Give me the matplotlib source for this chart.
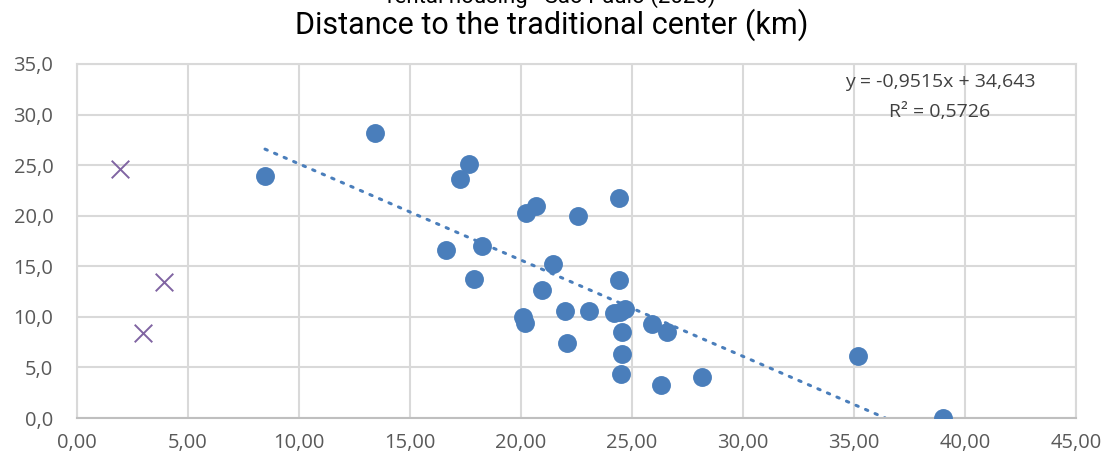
import numpy as np
import matplotlib.pyplot as plt
from matplotlib.ticker import FuncFormatter, MultipleLocator

# ==============================================================
#  Data
# ==============================================================
dist_km = [8.47, 13.42, 17.66, 17.27, 20.66, 20.23, 22.58, 24.41, 16.60, 18.26,
           21.46, 17.90, 24.41, 20.96, 20.10, 20.18, 21.98, 23.05, 24.20, 24.45,
           24.68, 25.90, 26.56, 24.53, 22.07, 24.53, 24.50, 26.29, 28.14, 35.20,
           39.00]
rent = [23.9, 28.2, 25.1, 23.6, 21.0, 20.25, 20.0, 21.8, 16.6, 17.05,
        15.2, 13.75, 13.6, 12.7, 10.0, 9.4, 10.6, 10.6, 10.4, 10.5,
        10.75, 9.3, 8.55, 8.55, 7.45, 6.3, 4.35, 3.23, 4.1, 6.1,
        0.0]

outlier_x = [1.94, 3.92, 2.97]
outlier_y = [24.6, 13.45, 8.4]

slope, intercept, r2 = -0.9515, 34.643, 0.5726

subtitle = "rental housing - São Paulo (2020)"
title = "Distance to the traditional center (km)"

BLUE = "#4a7ebb"
PURPLE = "#8064a2"
GRID = "#d9d9d9"
TICK = "#595959"


def comma(fmt):
    return FuncFormatter(lambda v, _: format(v, fmt).replace(".", ","))


fig = plt.figure(figsize=(11.03, 4.62), dpi=100)
ax = fig.add_axes([0.0698, 0.0952, 0.9057, 0.7663])

ax.scatter(dist_km, rent, s=185, color=BLUE, zorder=3, linewidths=0)
ax.scatter(outlier_x, outlier_y, s=160, marker="x", color=PURPLE,
           linewidths=1.4, zorder=3)

# linear trendline, clipped at y = 0 like Excel does
x_fit = np.array([min(dist_km), -intercept / slope])
ax.plot(x_fit, slope * x_fit + intercept, color=BLUE, lw=2.2,
        ls=(0, (0.8, 2.6)), dash_capstyle="round", zorder=2)

ax.text(0.864, 0.975, f"y = {slope:.4f}x + {intercept:.3f}".replace(".", ","),
        transform=ax.transAxes, ha="center", va="top", fontsize=14,
        color="#404040", family="Open Sans")
ax.text(0.864, 0.89, f"R² = {r2:.4f}".replace(".", ","),
        transform=ax.transAxes, ha="center", va="top", fontsize=14,
        color="#404040", family="Open Sans")

ax.set_xlim(0, 45)
ax.set_ylim(0, 35)
ax.xaxis.set_major_locator(MultipleLocator(5))
ax.yaxis.set_major_locator(MultipleLocator(5))
ax.xaxis.set_major_formatter(comma(".2f"))
ax.yaxis.set_major_formatter(comma(".1f"))
ax.grid(color=GRID, lw=1.5, zorder=0)
ax.set_axisbelow(True)
for sp in ax.spines.values():
    sp.set_color(GRID)
    sp.set_linewidth(1.5)
ax.spines["bottom"].set_color("#bfbfbf")
ax.tick_params(length=0, labelsize=14.5, colors=TICK)
ax.tick_params(axis="y", pad=17)
ax.tick_params(axis="x", pad=11)
for lab in ax.get_xticklabels() + ax.get_yticklabels():
    lab.set_family("Open Sans")

# the subtitle sits partly above the top edge, as in the source image
fig.text(0.5, 1 - 3 / 462, subtitle, ha="center", va="baseline",
         fontsize=16, family="Roboto")
fig.text(0.5, 1 - 34 / 462, title, ha="center", va="baseline",
         fontsize=22, family="Roboto")

fig.savefig("out.png", dpi=100)
